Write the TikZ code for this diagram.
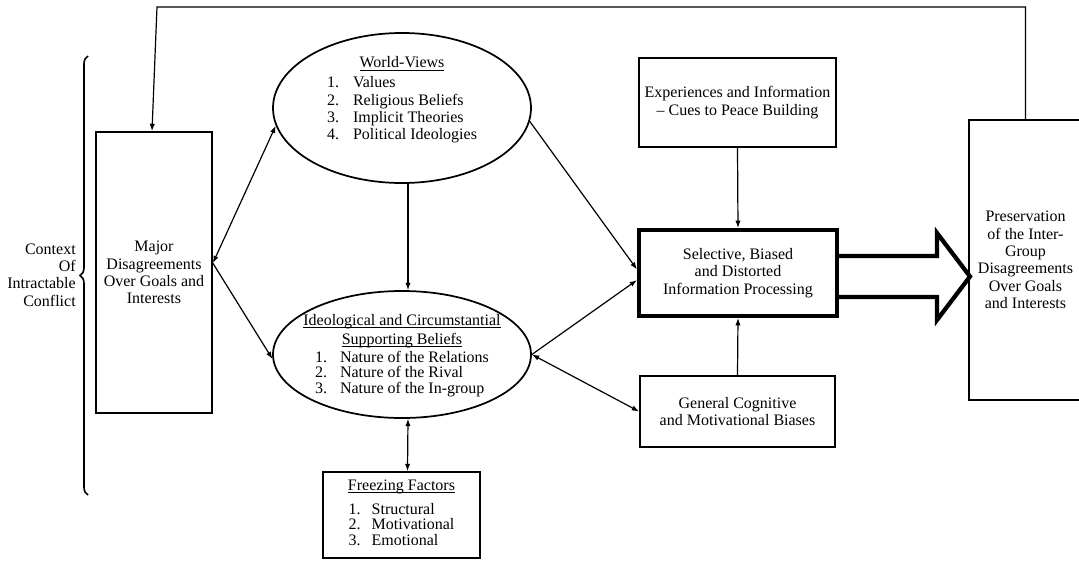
\documentclass[tikz,border=0pt]{standalone}
\usepackage{fontspec}
\setmainfont{Liberation Serif}
\usetikzlibrary{arrows.meta,shapes.geometric,decorations.pathreplacing}
\newcommand{\ulhead}[1]{\underline{\raisebox{0pt}[\height][0pt]{#1}}}

\begin{document}
\begin{tikzpicture}[x=0.75pt,y=-0.75pt,
    every node/.style={font=\fontsize{12}{13}\selectfont},
    box/.style={draw,line width=1.3pt,align=center,inner sep=1pt},
    thickbox/.style={box,line width=3pt},
    bubble/.style={draw,ellipse,line width=1.3pt,minimum width=193.5pt,inner sep=0pt},
    link/.style={line width=0.9pt},
    fatarrow/.style={line width=3.2pt,line join=miter},
    >={Latex[length=5.5pt,width=4pt]}]
  \useasboundingbox (0,0) rectangle (1079,561);

  % left side
  \node[box,minimum width=87pt,minimum height=210.75pt] (major) at (154,272.5)
    {Major\\Disagreements\\Over Goals and\\Interests};
  \node[align=right,anchor=east,inner sep=0pt] (context) at (76,275)
    {Context\\Of\\Intractable\\Conflict};
  \draw[line width=1.2pt,decorate,decoration={brace,amplitude=6pt}] (88,495) -- (88,56);

  % beliefs
  \node[bubble,minimum height=112.5pt] (wv) at (402,108) {};
  \node[align=center] (wvtext) at (402,101)
    {\ulhead{World-Views}\\[2pt]
     \begin{tabular}[t]{@{}p{19.5pt}@{}l@{}}
       1.&Values\\ 2.&Religious Beliefs\\ 3.&Implicit Theories\\ 4.&Political Ideologies
     \end{tabular}};
  \node[bubble,minimum height=95.25pt] (ideo) at (402,354.5) {};
  \node[align=center] (ideotext) at (402,356)
    {\ulhead{Ideological and Circumstantial}\\[1.25pt]
     \ulhead{Supporting Beliefs}\\[0.5pt]
     \renewcommand{\arraystretch}{0.87}%
     \begin{tabular}[t]{@{}p{18.75pt}@{}l@{}}
       1.&Nature of the Relations\\ 2.&Nature of the Rival\\ 3.&Nature of the In-group
     \end{tabular}};
  \node[box,minimum width=117.75pt,minimum height=64.5pt] (freeze) at (401.5,515)
    {\ulhead{Freezing Factors}\\[5pt]
     \renewcommand{\arraystretch}{0.9}%
     \begin{tabular}[t]{@{}p{17.25pt}@{}l@{}}
       1.&Structural\\ 2.&Motivational\\ 3.&Emotional
     \end{tabular}};

  % processing
  \node[box,minimum width=147.75pt,minimum height=66.75pt] (exp) at (737.5,102.5)
    {Experiences and Information\\-- Cues to Peace Building};
  \node[thickbox,minimum width=148.5pt,minimum height=64.5pt] (sel) at (738,273)
    {Selective, Biased\\and Distorted\\Information Processing};
  \node[box,minimum width=146.25pt,minimum height=53.25pt] (gen) at (737.5,411.5)
    {General Cognitive\\and Motivational Biases};
  \node[box,minimum width=84.75pt,minimum height=210pt] (pres) at (1025.5,260)
    {Preservation\\of the Inter-\\Group\\Disagreements\\Over Goals\\and Interests};
  \coordinate (corner) at (157,7);

  \path[link,<->] (major.9) edge (wv.188);
  \path[link,->] (major.9) edge (ideo.182);
  \path[link,->] ([xshift=4.5pt]wv.south) edge ([xshift=4.5pt]ideo.north);
  \path[link,<->] ([xshift=4.5pt]ideo.south) edge ([xshift=4.5pt]freeze.north);
  \path[link,->] (wv.-6) edge (sel.178);
  \path[link,->] (ideo.east) edge (sel.184);
  \path[link,<->] (ideo.east) edge (gen.west);
  \path[link,->] (exp.south) edge (sel.north);
  \path[link,->] (gen.north) edge (sel.south);
  \draw[link,->] (pres.north) |- (corner) -- ([xshift=-1.5pt]major.north);
  \draw[fatarrow] ([yshift=12.75pt]sel.east) -- ++(98,0) -- ++(0,-23)
    -- ++(33,43.5) -- ++(-33,43.5) -- ++(0,-23) -- ++(-98,0);
\end{tikzpicture}
\end{document}
